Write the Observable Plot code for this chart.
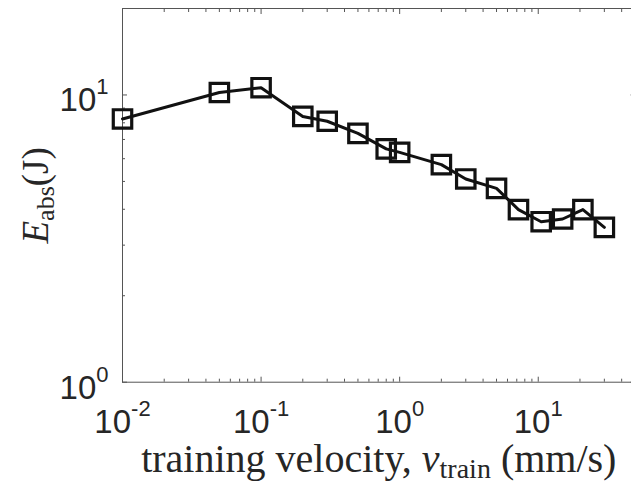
<!DOCTYPE html>
<html>
<head>
<meta charset="utf-8">
<script src="https://cdn.jsdelivr.net/npm/d3@7"></script>
<script src="https://cdn.jsdelivr.net/npm/@observablehq/plot@0.6"></script>
<style>
  html, body { margin: 0; padding: 0; background: #fff; overflow: hidden; }
  #chart svg { display: block; }
</style>
</head>
<body>
<div id="chart"></div>
<script>
// ---- data ----
const velocity = [0.01, 0.05, 0.1, 0.2, 0.3, 0.5, 0.8, 1, 2, 3, 5, 7.2, 10.5, 15, 21, 30];
const energy   = [8.25, 10.2, 10.6, 8.42, 8.10, 7.35, 6.49, 6.31, 5.72, 5.10, 4.73, 3.99, 3.62, 3.70, 3.99, 3.46];

const xTicks = [0.01, 0.1, 1, 10];
const xTickLabels = ["10^-2", "10^-1", "10^0", "10^1"];
const yTicks = [1, 10];
const yTickLabels = ["10^0", "10^1"];
const xDomain = [0.01, 50];
const yDomain = [1, 20];

const xLabel = "training velocity, v_train (mm/s)";
const yLabel = "E_abs (J)";

// minor tick positions (2..9 per decade) inside the domains
function minorTicks([lo, hi]) {
  const out = [];
  for (let e = Math.floor(Math.log10(lo)); e <= Math.ceil(Math.log10(hi)); e++) {
    for (let m = 2; m <= 9; m++) {
      const v = m * Math.pow(10, e);
      if (v > lo && v < hi) out.push(v);
    }
  }
  return out;
}
const xMinor = minorTicks(xDomain);
const yMinor = minorTicks(yDomain);

const data = velocity.map((v, i) => ({v, e: energy[i]}));

const axisColor = "#555";
const textColor = "#262626";
const tickFont = "Liberation Sans, Arial, sans-serif";
const serif = "Liberation Serif, Times New Roman, serif";

const tickOpts = (anchor, size) => ({anchor, tickSize: size, fill: "none", stroke: axisColor, label: null});

const plot = Plot.plot({
  width: 631,
  height: 487,
  marginLeft: 122,
  marginRight: -3.6,
  marginTop: 8,
  marginBottom: 105.3,
  style: {background: "#fff", overflow: "hidden"},
  x: {type: "log", domain: xDomain, axis: null},
  y: {type: "log", domain: yDomain, axis: null},
  marks: [
    Plot.frame({stroke: axisColor, strokeWidth: 1}),
    // major ticks (inward) on all sides
    Plot.axisX(xTicks, tickOpts("bottom", -5)),
    Plot.axisX(xTicks, tickOpts("top", -5)),
    Plot.axisY(yTicks, tickOpts("left", -5)),
    Plot.axisY(yTicks, tickOpts("right", -5)),
    // minor ticks
    Plot.axisX(xMinor, tickOpts("bottom", -3)),
    Plot.axisX(xMinor, tickOpts("top", -3)),
    Plot.axisY(yMinor, tickOpts("left", -3)),
    Plot.axisY(yMinor, tickOpts("right", -3)),
    // tick labels
    Plot.text(xTicks, {x: d => d, text: (d, i) => xTickLabels[i], frameAnchor: "bottom", lineAnchor: "bottom",
      dy: 51, textAnchor: "middle", fontSize: 33, fontFamily: tickFont, fill: textColor}),
    Plot.text(yTicks, {y: d => d, text: (d, i) => yTickLabels[i], frameAnchor: "left", lineAnchor: "bottom",
      dy: 16.5, dx: -14, textAnchor: "end", fontSize: 33, fontFamily: tickFont, fill: textColor}),
    // axis titles
    Plot.text([xLabel], {text: d => d, frameAnchor: "bottom", lineAnchor: "bottom", dy: 90,
      textAnchor: "middle", fontSize: 40, fontFamily: serif, fill: textColor}),
    Plot.text([yLabel], {text: d => d, frameAnchor: "left", lineAnchor: "bottom", rotate: -90, dx: -75,
      textAnchor: "middle", fontSize: 37, fontFamily: serif, fill: textColor}),
    // data
    Plot.line(data, {x: "v", y: "e", stroke: "#111", strokeWidth: 3}),
    Plot.dot(data, {x: "v", y: "e", symbol: "square", r: 10.4, stroke: "#111", strokeWidth: 3.2, fill: "none"})
  ]
});

document.getElementById("chart").appendChild(plot);

// ---- rich text (superscripts / subscripts / italics) ----
const NS = "http://www.w3.org/2000/svg";
function rich(el, parts) {
  el.textContent = "";
  for (const p of parts) {
    const ts = document.createElementNS(NS, "tspan");
    ts.textContent = p.t;
    if (p.style) ts.setAttribute("font-style", p.style);
    if (p.size) ts.setAttribute("font-size", p.size);
    if (p.shift) ts.setAttribute("baseline-shift", p.shift);
    el.appendChild(ts);
  }
}
d3.select(plot).selectAll("text").each(function () {
  const s = this.textContent;
  const m = /^10\^(-?\d)$/.exec(s);
  if (m) {
    rich(this, [{t: "10"}, {t: m[1], size: 22, shift: 17}]);
  } else if (s === xLabel) {
    rich(this, [{t: "training velocity, "}, {t: "v", style: "italic"}, {t: "train", size: 28, shift: -6}, {t: " (mm/s)"}]);
  } else if (s === yLabel) {
    rich(this, [{t: "E", style: "italic"}, {t: "abs", size: 26, shift: -6}, {t: "(J)"}]);
  }
});
</script>
</body>
</html>
